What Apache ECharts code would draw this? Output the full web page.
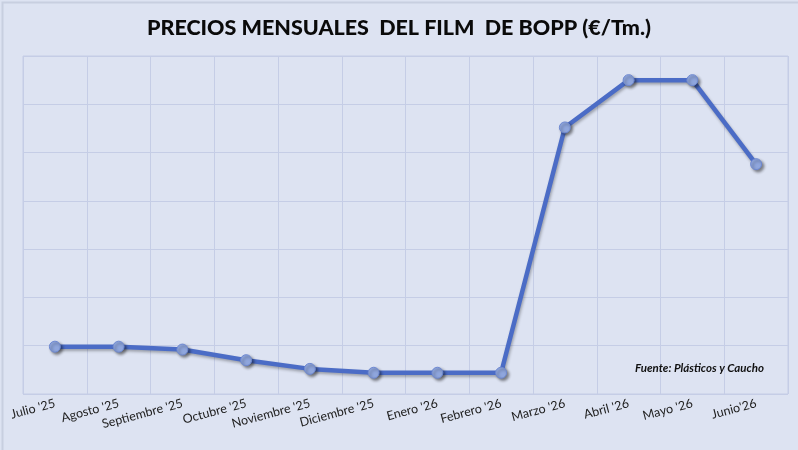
<!DOCTYPE html>
<html>
<head>
<meta charset="utf-8">
<script src="https://cdn.jsdelivr.net/npm/echarts@6/dist/echarts.min.js"></script>
<style>
html,body{margin:0;padding:0;background:#dde3f2;}
#c{width:798px;height:450px;}
</style>
</head>
<body>
<div id="c"></div>
<script>
const categories = ["Julio '25","Agosto '25","Septiembre '25","Octubre '25","Noviembre '25","Diciembre '25","Enero '26","Febrero '26","Marzo '26","Abril '26","Mayo '26","Junio'26"];
const prices = [1449, 1449, 1446, 1435, 1426, 1422, 1422, 1422, 1676, 1725, 1725, 1638];
const titleText = "PRECIOS MENSUALES  DEL FILM  DE BOPP (€/Tm.)";
const sourceText = "Fuente: Plásticos y Caucho";

const chart = echarts.init(document.getElementById('c'));
chart.setOption({
  backgroundColor: '#dde3f2',
  animation: false,
  title: {
    text: titleText,
    left: 'center',
    top: 12,
    textStyle: {fontFamily: 'Lato', fontWeight: 900, fontSize: 21.5, color: '#0a0a0a'}
  },
  graphic: [
    {type: 'rect', z: 100, left: 0, top: 0, shape: {width: 797, height: 449}, style: {fill: 'none', stroke: '#c8cfe0', lineWidth: 2}, silent: true},
    {type: 'text', z: 100, right: 34, top: 362, style: {text: sourceText, fontFamily: 'Lato', fontWeight: 'bold', fontStyle: 'italic', fontSize: 11.5, fill: '#111'}}
  ],
  grid: {left: 23, right: 10, top: 56, bottom: 56, show: true, borderColor: '#c5cde6', borderWidth: 1},
  xAxis: {
    type: 'category',
    data: categories,
    boundaryGap: true,
    axisLine: {show: false},
    axisTick: {show: false},
    splitLine: {show: true, lineStyle: {color: '#c5cde6', width: 1}},
    axisLabel: {rotate: 15, margin: 9, interval: 0, fontFamily: 'Lato', fontSize: 12.5, color: '#222'}
  },
  yAxis: {
    type: 'value',
    min: 1400,
    max: 1750,
    interval: 50,
    axisLabel: {show: false},
    axisLine: {show: false},
    axisTick: {show: false},
    splitLine: {show: true, lineStyle: {color: '#c5cde6', width: 1}}
  },
  series: [{
    type: 'line',
    data: prices,
    symbol: 'circle',
    symbolSize: 11,
    lineStyle: {color: '#4b6cc6', width: 4.5, shadowColor: 'rgba(0,0,0,0.3)', shadowBlur: 3, shadowOffsetX: 1, shadowOffsetY: 2},
    itemStyle: {color: '#8fa6dd', borderColor: '#6e89d2', borderWidth: 1, shadowColor: 'rgba(0,0,0,0.45)', shadowBlur: 3, shadowOffsetX: 2, shadowOffsetY: 2}
  }]
});
</script>
</body>
</html>
